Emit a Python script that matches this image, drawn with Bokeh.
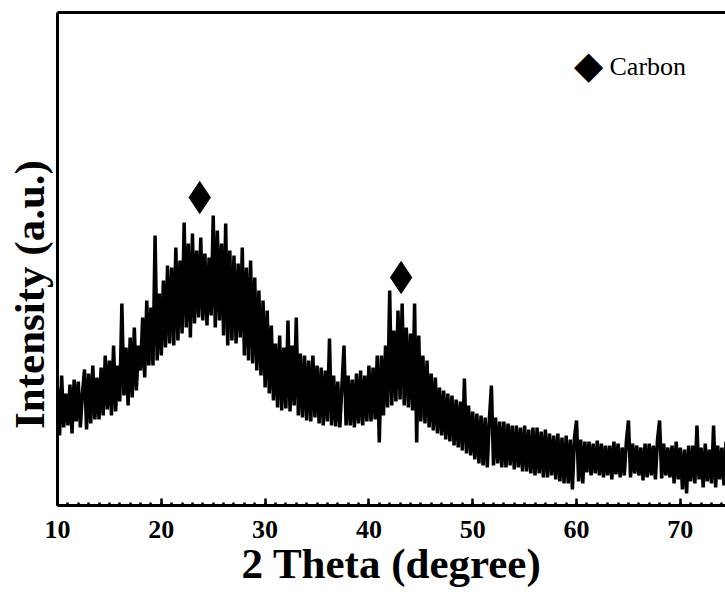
import math
from bokeh.plotting import figure
from bokeh.models import Range1d, LinearAxis, FixedTicker, Label
from bokeh.embed import file_html
from bokeh.resources import INLINE

# ---- data ----
two_theta_start = 10.0
two_theta_step = 0.2
intensity = [
    118, 70, 130, 78, 112,    # 10
    80, 121, 72, 126, 84,     # 11
    124, 78, 112, 136, 76,    # 12
    132, 82, 140, 86, 128,    # 13
    86, 138, 90, 150, 96,     # 14
    145, 90, 160, 94, 140,    # 15
    104, 202, 110, 158, 100,  # 16
    168, 108, 178, 115, 160,  # 17
    135, 188, 128, 205, 140,  # 18
    198, 140, 270, 145, 212,  # 19
    150, 225, 158, 240, 162,  # 20
    238, 160, 258, 165, 245,  # 21
    172, 283, 178, 262, 168,  # 22
    272, 182, 255, 188, 268,  # 23
    185, 252, 180, 248, 190,  # 24
    290, 178, 275, 185, 262,  # 25
    170, 282, 160, 255, 165,  # 26
    250, 162, 242, 168, 258,  # 27
    150, 238, 145, 245, 142,  # 28
    228, 135, 215, 130, 205,  # 29
    118, 195, 112, 180, 105,  # 30
    162, 98, 170, 95, 158,    # 31
    97, 185, 94, 160, 100,    # 32
    188, 90, 152, 88, 150,    # 33
    85, 145, 84, 150, 88,     # 34
    140, 82, 138, 80, 135,    # 35
    84, 167, 80, 130, 79,     # 36
    124, 78, 120, 160, 80,    # 37
    130, 80, 126, 78, 132,    # 38
    82, 135, 80, 130, 84,     # 39
    140, 84, 138, 86, 150,    # 40
    63, 150, 90, 160, 98,     # 41
    215, 100, 175, 104, 195,  # 42
    106, 202, 100, 178, 98,   # 43
    172, 95, 202, 63, 170,    # 44
    84, 150, 82, 145, 78,     # 45
    132, 75, 128, 72, 118,    # 46
    70, 115, 66, 112, 64,     # 47
    110, 60, 106, 58, 104,    # 48
    55, 127, 52, 100, 50,     # 49
    94, 46, 92, 42, 90,       # 50
    40, 88, 38, 86, 120,      # 51
    40, 88, 42, 84, 38,       # 52
    84, 38, 82, 40, 80,       # 53
    36, 80, 38, 78, 34,       # 54
    80, 34, 76, 32, 78,       # 55
    30, 78, 32, 74, 28,       # 56
    76, 28, 72, 30, 70,       # 57
    26, 72, 24, 68, 22,       # 58
    70, 22, 66, 16, 68,       # 59
    85, 24, 66, 22, 64,       # 60
    33, 64, 30, 62, 32,       # 61
    65, 30, 62, 28, 60,       # 62
    30, 60, 26, 64, 31,       # 63
    62, 28, 58, 30, 64,       # 64
    85, 28, 62, 32, 60,       # 65
    30, 58, 25, 62, 28,       # 66
    62, 30, 60, 26, 66,       # 67
    85, 27, 62, 30, 58,       # 68
    28, 60, 22, 64, 26,       # 69
    58, 16, 56, 12, 60,       # 70
    24, 60, 22, 80, 26,       # 71
    58, 18, 62, 24, 56,       # 72
    22, 80, 18, 60, 26,       # 73
    58, 20, 64, 24, 60,       # 74
]
two_theta = [round(two_theta_start + i * two_theta_step, 1) for i in range(len(intensity))]

carbon_peak_2theta = [23.7, 43.1]
carbon_marker_intensity = [308, 228]
carbon_label = "Carbon"

x_ticks = [10, 20, 30, 40, 50, 60, 70]
x_minor_ticks = list(range(10, 75))
x_title = "2 Theta (degree)"
y_title = "Intensity (a.u.)"
y_title_pos = 211

# ---- figure ----
p = figure(width=725, height=592, output_backend="svg", toolbar_location=None,
           x_range=Range1d(10, 74.35), y_range=Range1d(0, 493),
           min_border_left=57, min_border_right=0, min_border_top=12, min_border_bottom=87)
p.outline_line_color = None
p.grid.visible = False
p.background_fill_color = "white"
p.border_fill_color = "white"

p.line(two_theta, intensity, line_color="black", line_width=3.5)
p.scatter(carbon_peak_2theta, carbon_marker_intensity, marker="diamond",
          size=32, fill_color="black", line_color="black")

# bottom axis
xa = p.xaxis[0]
xa.ticker = FixedTicker(ticks=x_ticks, minor_ticks=x_minor_ticks)
xa.axis_line_width = 3
xa.axis_line_color = "black"
xa.major_tick_in = 7
xa.major_tick_out = 0
xa.minor_tick_in = 3
xa.minor_tick_out = 0
xa.major_tick_line_width = 2.5
xa.minor_tick_line_width = 2.5
xa.major_tick_line_color = "black"
xa.minor_tick_line_color = "black"
xa.major_label_text_font = "Liberation Serif"
xa.major_label_text_font_style = "bold"
xa.major_label_text_font_size = "26px"
xa.major_label_text_color = "black"
xa.major_label_standoff = 15
xa.axis_label = x_title
xa.axis_label_text_font = "Liberation Serif"
xa.axis_label_text_font_style = "bold"
xa.axis_label_text_font_size = "43px"
xa.axis_label_text_color = "black"
xa.axis_label_standoff = -1

# left axis (line only)
ya = p.yaxis[0]
ya.ticker = FixedTicker(ticks=[])
ya.axis_line_width = 3
ya.axis_line_color = "black"
ya.major_tick_line_color = None
ya.minor_tick_line_color = None
ya.major_label_standoff = 0

# left title (placed as a single vertical label so it sits lower than the frame centre)
la = LinearAxis(ticker=FixedTicker(ticks=[y_title_pos]),
                major_label_overrides={y_title_pos: y_title},
                major_label_orientation="vertical",
                major_label_text_font="Liberation Serif", major_label_text_font_style="bold",
                major_label_text_font_size="43px", major_label_text_color="black",
                major_label_standoff=5, axis_line_color=None,
                major_tick_line_color=None, minor_tick_line_color=None,
                major_tick_in=0, major_tick_out=0, minor_tick_in=0, minor_tick_out=0)
p.add_layout(la, "left")

# top frame line
ta = LinearAxis(ticker=FixedTicker(ticks=[]), axis_line_width=3, axis_line_color="black",
                major_tick_line_color=None, minor_tick_line_color=None,
                major_label_standoff=0)
p.add_layout(ta, "above")

# legend
p.add_layout(Label(x=531, y=441, x_units="screen", y_units="screen", text="\u25C6",
                   text_font="DejaVu Sans", text_font_size="38px", text_color="black",
                   text_align="center", text_baseline="middle"))
p.add_layout(Label(x=552, y=439, x_units="screen", y_units="screen", text=carbon_label,
                   text_font="Liberation Serif", text_font_size="26px", text_color="black",
                   text_align="left", text_baseline="alphabetic"))

open("out.html", "w").write(file_html(p, INLINE))
